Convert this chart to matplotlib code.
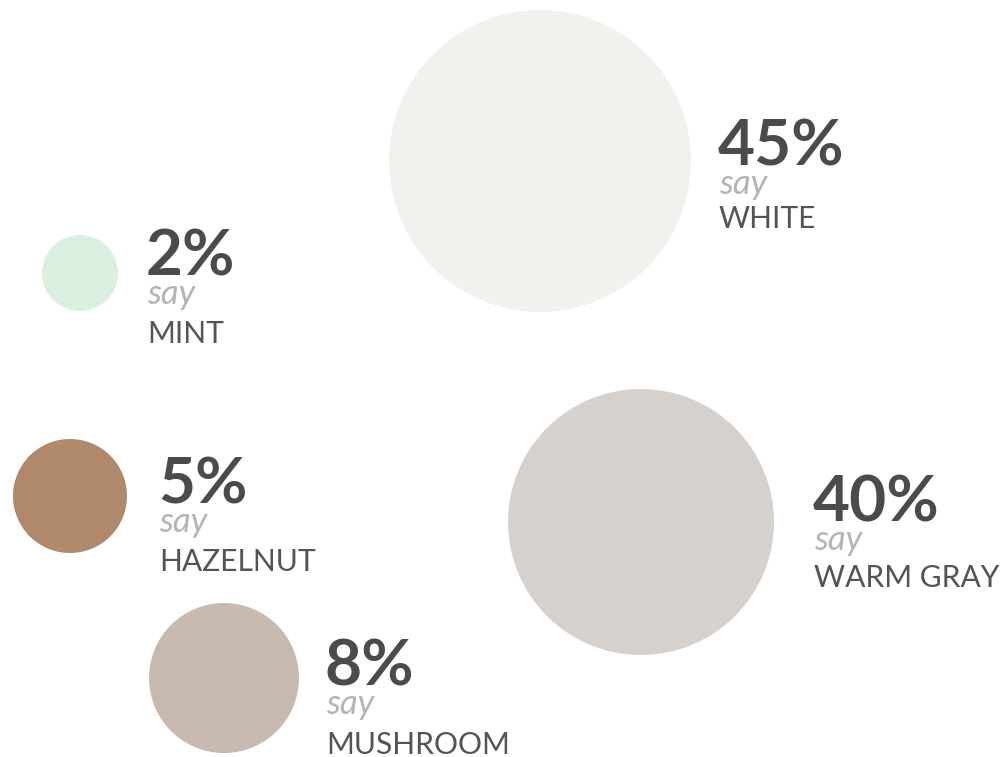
import matplotlib
matplotlib.use("Agg")
import matplotlib.pyplot as plt
from matplotlib.patches import Circle

# ---- data ----
colors_named = ["WHITE", "MINT", "HAZELNUT", "WARM GRAY", "MUSHROOM"]
shares = [45, 2, 5, 40, 8]

# ---- layout (pixel canvas positions / radii of bubbles, text anchors) ----
pos_x = [540, 80, 70, 641, 224]
pos_y = [161, 273, 496, 522, 678]
radius = [151, 38, 57, 133, 75]
text_x = [719, 147, 159, 814, 326]
text_y = [165, 276, 503, 521, 685]
say_dy = 28.5
name_dy = [63.5, 67, 68, 66, 69]

# ---- styles ----
fills = ["#f1f1ed", "#d9efdf", "#b0886c", "#d6d1cc", "#c8bab0"]
num_color = "#4b4b4b"
say_color = "#b2b5b8"
label_color = "#545454"

W, H = 1003, 757
fig = plt.figure(figsize=(W / 100, H / 100), dpi=100)
ax = fig.add_axes([0, 0, 1, 1])
ax.set_xlim(0, W)
ax.set_ylim(H, 0)
ax.set_aspect("equal")
ax.axis("off")

for i, (name, v) in enumerate(zip(colors_named, shares)):
    ax.add_patch(Circle((pos_x[i], pos_y[i]), radius[i], facecolor=fills[i], edgecolor="none"))
    tx, ty = text_x[i], text_y[i]
    ax.text(tx - 1, ty, f"{v}%", family="Lato", fontweight="bold", fontsize=46,
            color=num_color, va="baseline", ha="left")
    ax.text(tx, ty + say_dy, "say", family="Lato", fontstyle="italic", fontsize=25,
            color=say_color, va="baseline", ha="left")
    ax.text(tx, ty + name_dy[i], name, family="Lato", fontsize=21.6,
            color=label_color, va="baseline", ha="left")

fig.savefig("out.png", dpi=100, facecolor="white")
